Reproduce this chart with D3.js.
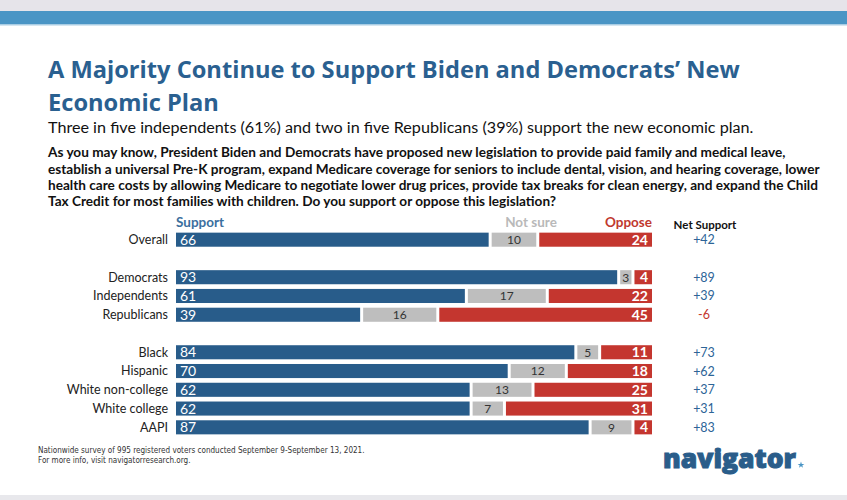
<!DOCTYPE html>
<html>
<head>
<meta charset="utf-8">
<script src="https://cdn.jsdelivr.net/npm/d3@7"></script>
<style>
  html, body { margin: 0; padding: 0; background: #fff; }
  svg { display: block; }
</style>
</head>
<body>
<svg id="chart" width="847" height="500"></svg>
<script>
// ---- Data ----
const categories = ["Overall", "Democrats", "Independents", "Republicans", "Black", "Hispanic", "White non-college", "White college", "AAPI"];
const support    = [66, 93, 61, 39, 84, 70, 62, 62, 87];
const notSure    = [10, 3, 17, 16, 5, 12, 13, 7, 9];
const oppose     = [24, 4, 22, 45, 11, 18, 25, 31, 4];
const netSupport = [42, 89, 39, -6, 73, 62, 37, 31, 83];
const slots = ["Overall", "gap1", "Democrats", "Independents", "Republicans", "gap2", "Black", "Hispanic", "White non-college", "White college", "AAPI"];
const seriesNames = ["Support", "Not sure", "Oppose"];

const titleLines = ["A Majority Continue to Support Biden and Democrats\u2019 New", "Economic Plan"];
const subtitle = "Three in five independents (61%) and two in five Republicans (39%) support the new economic plan.";
const questionLines = [
  "As you may know, President Biden and Democrats have proposed new legislation to provide paid family and medical leave,",
  "establish a universal Pre-K program, expand Medicare coverage for seniors to include dental, vision, and hearing coverage, lower",
  "health care costs by allowing Medicare to negotiate lower drug prices, provide tax breaks for clean energy, and expand the Child",
  "Tax Credit for most families with children. Do you support or oppose this legislation?"
];
const footnotes = ["Nationwide survey of 995 registered voters conducted September 9-September 13, 2021.", "For more info, visit navigatorresearch.org."];

// ---- Styles ----
const BLUE = "#285c8a", GRAY = "#bebebe", RED = "#c4362f";
const TITLE = "#2a6090";
const FONT = "Lato, 'Open Sans', sans-serif";

const svg = d3.select("#chart");

// bands
svg.append("rect").attr("x", 0).attr("y", 0).attr("width", 847).attr("height", 11).attr("fill", "#e6e4ea");
svg.append("rect").attr("x", 0).attr("y", 11).attr("width", 847).attr("height", 13).attr("fill", "#4a95c5");
svg.append("rect").attr("x", 0).attr("y", 24).attr("width", 847).attr("height", 1.5).attr("fill", "#a9cde4");
svg.append("rect").attr("x", 0).attr("y", 495).attr("width", 847).attr("height", 5).attr("fill", "#e8e8ec");

function fitSize(textSel, target) {
  const w = textSel.node().getComputedTextLength();
  const fs = parseFloat(textSel.attr("font-size"));
  return fs * target / w;
}

// Title
const tg = svg.append("g").attr("font-family", "'Open Sans', Lato, sans-serif").attr("font-weight", 700).attr("fill", TITLE);
const t1 = tg.append("text").attr("x", 48).attr("y", 78).attr("font-size", 24).text(titleLines[0]);
const tfs = fitSize(t1, 692);
t1.attr("font-size", tfs);
const bb1 = t1.node().getBBox();
const y2 = Math.max(108, 78 + bb1.height + 0.5);
tg.append("text").attr("x", 48).attr("y", y2).attr("font-size", tfs).text(titleLines[1]);

// Subtitle
const st = svg.append("text").attr("x", 48).attr("y", 133).attr("font-family", FONT).attr("font-size", 14)
  .attr("fill", "#111").text(subtitle);
st.attr("font-size", fitSize(st, 706));

// Question
const qg = svg.append("g").attr("font-family", FONT).attr("font-weight", 700).attr("fill", "#111");
const qy = [157, 174, 190, 206];
const q2 = qg.append("text").attr("x", 48).attr("y", qy[1]).attr("font-size", 13).text(questionLines[1]);
const qfs = fitSize(q2, 772);
q2.attr("font-size", qfs);
[0, 2, 3].forEach(i => qg.append("text").attr("x", 48).attr("y", qy[i]).attr("font-size", qfs).text(questionLines[i]));

// ---- Chart ----
const x = d3.scaleLinear().domain([0, 100]).range([176, 652]);
const y = d3.scaleBand().domain(slots).range([230.3, 436.7]).paddingInner(0.25).paddingOuter(0.125);

const rows = categories.map((c, i) => ({
  cat: c,
  segs: [
    { key: seriesNames[0], start: 0, end: support[i], v: support[i], color: BLUE },
    { key: seriesNames[1], start: support[i], end: support[i] + notSure[i], v: notSure[i], color: GRAY },
    { key: seriesNames[2], start: support[i] + notSure[i], end: 100, v: oppose[i], color: RED }
  ],
  net: netSupport[i]
}));

const gap = 1.5;
const rowG = svg.append("g").selectAll("g").data(rows).join("g")
  .attr("transform", d => `translate(0,${y(d.cat)})`);

rowG.selectAll("rect").data(d => d.segs).join("rect")
  .attr("x", (s, j) => x(s.start) + (j === 0 ? 0 : gap))
  .attr("width", (s, j) => x(s.end) - x(s.start) - (j === 0 ? gap : (j === 2 ? gap : 2 * gap)))
  .attr("y", 0).attr("height", y.bandwidth())
  .attr("fill", s => s.color);

const bw = y.bandwidth();
rowG.append("text").attr("x", 168).attr("y", bw / 2).attr("dy", "0.35em")
  .attr("text-anchor", "end").attr("font-family", FONT).attr("font-size", 12.5).attr("fill", "#222")
  .text(d => d.cat);

rowG.append("text").attr("x", d => x(0) + 4).attr("y", bw / 2).attr("dy", "0.36em")
  .attr("font-family", FONT).attr("font-size", 14).attr("fill", "#fff")
  .text(d => d.segs[0].v);

rowG.append("text").attr("x", d => (x(d.segs[1].start) + x(d.segs[1].end)) / 2).attr("y", bw / 2).attr("dy", "0.36em")
  .attr("text-anchor", "middle").attr("font-family", FONT).attr("font-size", 12).attr("fill", "#333")
  .text(d => d.segs[1].v);

rowG.append("text").attr("x", d => x(100) - 4).attr("y", bw / 2).attr("dy", "0.36em")
  .attr("text-anchor", "end").attr("font-family", FONT).attr("font-weight", 700).attr("font-size", 14).attr("fill", "#fff")
  .text(d => d.segs[2].v);

rowG.append("text").attr("x", 704).attr("y", bw / 2).attr("dy", "0.36em")
  .attr("text-anchor", "middle").attr("font-family", FONT).attr("font-size", 12.5)
  .attr("fill", d => d.net >= 0 ? "#2d6497" : RED)
  .text(d => (d.net > 0 ? "+" : "") + d.net);

// headers
const hy = 227;
svg.append("text").attr("x", 176).attr("y", hy).attr("font-family", FONT).attr("font-weight", 700).attr("font-size", 13.5)
  .attr("fill", "#3b6f9e").text(seriesNames[0]);
svg.append("text").attr("x", 531).attr("y", hy).attr("text-anchor", "middle").attr("font-family", FONT).attr("font-weight", 700).attr("font-size", 13.5)
  .attr("fill", "#b9b9b9").text(seriesNames[1]);
svg.append("text").attr("x", 652).attr("y", hy).attr("text-anchor", "end").attr("font-family", FONT).attr("font-weight", 700).attr("font-size", 13.5)
  .attr("fill", "#c0392f").text(seriesNames[2]);
svg.append("text").attr("x", 705).attr("y", 229).attr("text-anchor", "middle").attr("font-family", FONT).attr("font-weight", 700).attr("font-size", 11.5)
  .attr("fill", "#111").text("Net Support");

// footnotes
const fg = svg.append("g").attr("font-family", "'Liberation Sans Narrow', 'DejaVu Sans Condensed', sans-serif").attr("fill", "#333");
const f1 = fg.append("text").attr("x", 38).attr("y", 453).attr("font-size", 9).text(footnotes[0]);
const ffs = fitSize(f1, 327);
f1.attr("font-size", ffs);
fg.append("text").attr("x", 38).attr("y", 463).attr("font-size", ffs).text(footnotes[1]);

// logo
const logo = svg.append("text").attr("x", 663).attr("y", 468).attr("font-family", "'Open Sans', Lato, sans-serif")
  .attr("font-weight", 800).attr("font-size", 30).attr("fill", "#2a5d8a")
  .attr("stroke", "#2a5d8a").attr("stroke-width", 1).text("navigator");
logo.attr("font-size", fitSize(logo, 133));
svg.append("path").attr("d", d3.symbol(d3.symbolStar, 14)()).attr("transform", "translate(801,465)").attr("fill", "#4a95c5");
</script>
</body>
</html>
